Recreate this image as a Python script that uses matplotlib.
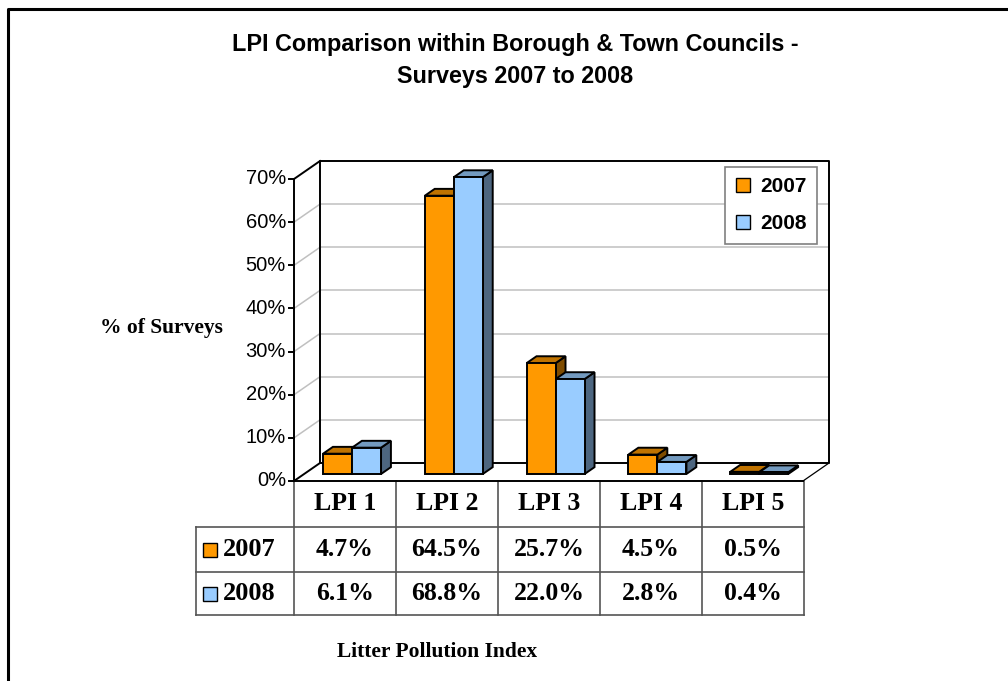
import matplotlib
matplotlib.use("Agg")
import matplotlib.pyplot as plt
from matplotlib.patches import Polygon
from matplotlib.lines import Line2D

# ---- data ----
categories = ["LPI 1", "LPI 2", "LPI 3", "LPI 4", "LPI 5"]
years = ["2007", "2008"]
vals_2007 = [4.7, 64.5, 25.7, 4.5, 0.5]
vals_2008 = [6.1, 68.8, 22.0, 2.8, 0.4]
yticks = [0, 10, 20, 30, 40, 50, 60, 70]

# colours: front, top, side
col_2007 = ("#FF9900", "#C07300", "#7F4C00")
col_2008 = ("#99CCFF", "#739ABF", "#4D6680")

SANS = "Liberation Sans"
SERIF = "Liberation Serif"

W, H = 1008, 681
fig = plt.figure(figsize=(W / 100, H / 100), dpi=100)

# background axes in pixel units (frame, titles, table)
bg = fig.add_axes([0, 0, 1, 1], zorder=0)
bg.set_xlim(0, W)
bg.set_ylim(H, 0)
bg.axis("off")

# front plane of the 3d chart
fx0, fx1, fy0, fy1 = 294, 803, 481, 179
ax = fig.add_axes([fx0 / W, 1 - fy0 / H, (fx1 - fx0) / W, (fy0 - fy1) / H], zorder=1)
ax.set_xlim(0, 5)
ax.set_ylim(0, 70)
ax.axis("off")
ax.patch.set_visible(False)

PX = 5 / (fx1 - fx0)      # categories per pixel
PY = 70 / (fy0 - fy1)     # percent per pixel
bx, by = 26 * PX, 18 * PY  # depth offset of back wall

# outer frame (cropped on right/bottom)
bg.plot([8, 8, W + 5], [H + 5, 9, 9], color="black", lw=2.2, solid_capstyle="butt")

# title
bg.text(515, 45, "LPI Comparison within Borough & Town Councils -", ha="center", va="center",
        fontsize=16.8, fontweight="bold", family=SANS)
bg.text(515, 76, "Surveys 2007 to 2008", ha="center", va="center",
        fontsize=16.8, fontweight="bold", family=SANS)

# walls and gridlines
grid_c = "#C0C0C0"
for k in yticks[1:-1]:
    ax.plot([bx, 5 + bx], [k + by, k + by], color=grid_c, lw=1.1, clip_on=False, zorder=1)
    ax.plot([0, bx], [k, k + by], color=grid_c, lw=1.1, clip_on=False, zorder=1)
edge = dict(color="black", lw=1.4, clip_on=False, zorder=2)
ax.plot([bx, bx, 5 + bx, 5 + bx, bx], [by, 70 + by, 70 + by, by, by], **edge)
ax.plot([0, bx], [70, 70 + by], **edge)
ax.plot([0, bx], [0, by], **edge)
ax.plot([5, 5 + bx], [0, by], color="black", lw=0.9, clip_on=False, zorder=2)
ax.plot([0, 0], [0, 70], **edge)
ax.plot([0, 5], [0, 0], **edge)
for k in yticks:
    ax.plot([-5 * PX, 0], [k, k], **edge)
    ax.text(-8 * PX, k, f"{k}%", ha="right", va="center", fontsize=14.5, family=SANS)

# 3d bars
f0, f1 = 0.39, 0.77
bw = 29 * PX


def bar3d(left, v, cols):
    ox0, oy0 = f0 * bx, f0 * by
    ox1, oy1 = f1 * bx, f1 * by
    r = left + bw
    side = [(r + ox0, oy0), (r + ox1, oy1), (r + ox1, v + oy1), (r + ox0, v + oy0)]
    top = [(left + ox0, v + oy0), (r + ox0, v + oy0), (r + ox1, v + oy1), (left + ox1, v + oy1)]
    front = [(left + ox0, oy0), (r + ox0, oy0), (r + ox0, v + oy0), (left + ox0, v + oy0)]
    for pts, c in ((side, cols[2]), (top, cols[1]), (front, cols[0])):
        ax.add_patch(Polygon(pts, closed=True, facecolor=c, edgecolor="black",
                             lw=1.4, joinstyle="miter", clip_on=False, zorder=3))


for i in range(len(categories)):
    left = i + 0.5 - 32 * PX
    bar3d(left, vals_2007[i], col_2007)
    bar3d(left + bw, vals_2008[i], col_2008)

# legend
handles = [Line2D([], [], ls="none", marker="s", markersize=10, markerfacecolor=col_2007[0],
                  markeredgecolor="black", label=years[0]),
           Line2D([], [], ls="none", marker="s", markersize=10, markerfacecolor=col_2008[0],
                  markeredgecolor="black", label=years[1])]
leg = ax.legend(handles=handles, loc="upper right", bbox_to_anchor=(817 / W, 1 - 167 / H),
                bbox_transform=fig.transFigure, prop=dict(family=SANS, weight="bold", size=15),
                frameon=True, fancybox=False, framealpha=1, edgecolor="#808080",
                handlelength=0.8, handletextpad=0.4, labelspacing=0.85, borderpad=0.5,
                borderaxespad=0)
leg.get_frame().set_linewidth(1.2)
leg.set_zorder(5)

# y label
bg.text(161, 328, "% of Surveys", ha="center", va="center", fontsize=15.5,
        fontweight="bold", family=SERIF)

# data table
col_edges = [294, 396, 498, 600, 702, 804]
row_edges = [481, 527, 572, 615]
tc = "#555555"
for x in col_edges:
    bg.plot([x, x], [row_edges[0], row_edges[-1]], color=tc, lw=1.2)
bg.plot([196, 196], [row_edges[1], row_edges[-1]], color=tc, lw=1.2)
for y in row_edges[1:]:
    bg.plot([196, col_edges[-1]], [y, y], color=tc, lw=1.2)

tfont = dict(fontsize=18.5, fontweight="bold", family=SERIF, ha="center", va="center")
for j, cat in enumerate(categories):
    xc = (col_edges[j] + col_edges[j + 1]) / 2
    bg.text(xc, (row_edges[0] + row_edges[1]) / 2, cat, **tfont)
    bg.text(xc, (row_edges[1] + row_edges[2]) / 2, f"{vals_2007[j]:.1f}%", **tfont)
    bg.text(xc, (row_edges[2] + row_edges[3]) / 2, f"{vals_2008[j]:.1f}%", **tfont)

for r, (yr, cols) in enumerate(zip(years, (col_2007, col_2008))):
    yc = (row_edges[r + 1] + row_edges[r + 2]) / 2
    bg.plot([210], [yc], marker="s", markersize=10, markerfacecolor=cols[0],
            markeredgecolor="black", ls="none")
    bg.text(223, yc, yr, fontsize=19, fontweight="bold", family=SERIF, ha="left", va="center")

# x label
bg.text(437, 652, "Litter Pollution Index", ha="center", va="center", fontsize=15.5,
        fontweight="bold", family=SERIF)

fig.savefig("out.png", dpi=100)
